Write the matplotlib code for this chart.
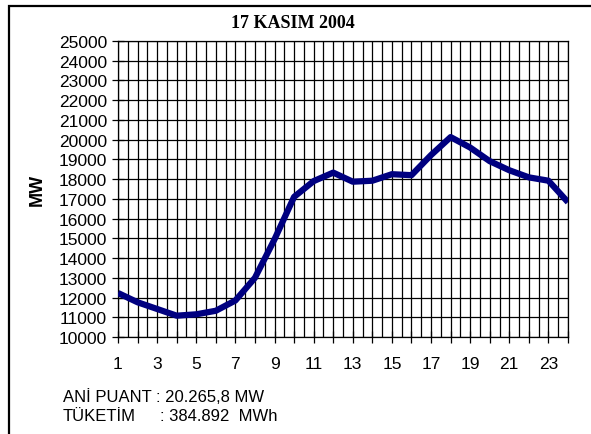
import numpy as np
import matplotlib.pyplot as plt
from matplotlib.patches import Rectangle

# hourly load, 17 Nov 2004
hours = list(range(1, 25))
load_mw = [12230, 11760, 11420, 11080, 11150, 11330, 11850, 13000,
           14950, 17100, 17900, 18330, 17870, 17920, 18250, 18200,
           19220, 20130, 19600, 18910, 18450, 18090, 17920, 16830]

yticks = list(range(10000, 25001, 1000))
xlabels = [str(h) if h % 2 == 1 else "" for h in hours]

title = "17 KASIM 2004"
info_lines = [("ANİ PUANT", ": 20.265,8 MW"), ("TÜKETİM", ": 384.892  MWh")]

W, H = 591, 435
fig = plt.figure(figsize=(W / 100, H / 100), dpi=100)
fig.patch.set_facecolor("white")

# outer frame of the chart object
fig.patches.append(Rectangle((9 / W, -0.05), 1.2, 1 - 7 / H + 0.05,
                             transform=fig.transFigure, fill=False,
                             edgecolor="black", linewidth=1.6))

ax = fig.add_axes([118 / W, 1 - 338 / H, (568 - 118) / W, (338 - 42) / H])
ax.plot(hours, load_mw, color="#000080", linewidth=4.5,
        solid_joinstyle="round", solid_capstyle="butt", zorder=3)

ax.set_xlim(1, 24)
ax.set_ylim(10000, 25000)
ax.set_yticks(yticks)
ax.set_xticks(hours)
ax.set_xticklabels(xlabels)
ax.set_xticks(np.arange(1.5, 24, 1.0), minor=True)
ax.grid(True, which="both", axis="x", color="black", linewidth=0.9)
ax.grid(True, which="major", axis="y", color="black", linewidth=0.9)
ax.tick_params(axis="both", which="major", direction="inout", length=8,
               width=0.9, labelsize=12.5, pad=4)
ax.tick_params(axis="x", which="major", pad=10)
ax.tick_params(axis="x", which="minor", length=0)
for lab in ax.get_xticklabels() + ax.get_yticklabels():
    lab.set_fontfamily("Liberation Sans")
for sp in ax.spines.values():
    sp.set_linewidth(0.9)
    sp.set_color("black")

fig.text(293 / W, 1 - 23 / H, title, ha="center", va="center",
         fontfamily="Liberation Serif", fontweight="bold", fontsize=13)
fig.text(37 / W, 1 - 190 / H, "MW", ha="center", va="center", rotation=90,
         fontfamily="Liberation Sans", fontweight="bold", fontsize=13)

for i, (name, val) in enumerate(info_lines):
    y = 1 - (398 + i * 19) / H
    fig.text(63 / W, y, name, ha="left", va="center",
             fontfamily="Liberation Sans", fontsize=12)
    fig.text((156 + 4 * i) / W, y, val, ha="left", va="center",
             fontfamily="Liberation Sans", fontsize=12)

fig.savefig("out.png", dpi=100)
